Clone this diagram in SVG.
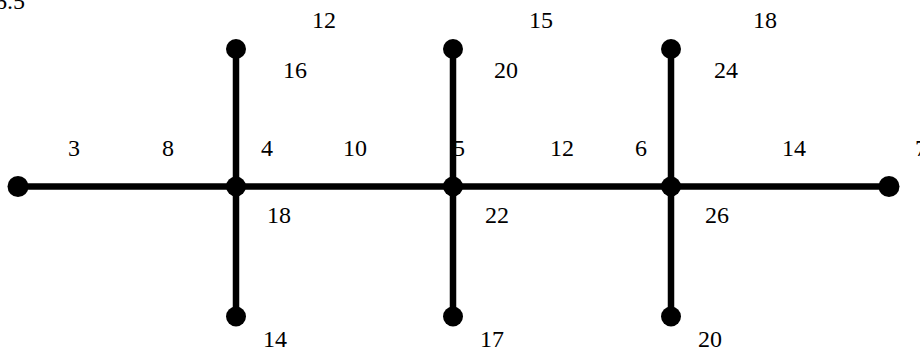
<svg xmlns="http://www.w3.org/2000/svg" width="920" height="353" viewBox="0 0 920 353">
<style>
text{font-family:"Liberation Serif","Times New Roman",serif;font-size:24px;fill:#000}
.e{stroke:#000;stroke-width:6.5;fill:none}
.n{fill:#000}
</style>
<rect width="920" height="353" fill="#fff"/>
<g id="labels">
<text x="-5" y="9">6.5</text>
<text x="68" y="156">3</text>
<text x="162" y="156">8</text>
<text x="261" y="156">4</text>
<text x="343" y="156">10</text>
<text x="453" y="156">5</text>
<text x="550" y="156">12</text>
<text x="635" y="156">6</text>
<text x="782" y="156">14</text>
<text x="915" y="156">7</text>
<text x="312" y="28">12</text>
<text x="529" y="28">15</text>
<text x="753" y="28">18</text>
<text x="283" y="78">16</text>
<text x="494" y="78">20</text>
<text x="714" y="78">24</text>
<text x="267" y="223">18</text>
<text x="485" y="223">22</text>
<text x="705" y="223">26</text>
<text x="263" y="347">14</text>
<text x="480" y="347">17</text>
<text x="698" y="347">20</text>
</g>
<g id="connectors">
<line class="e" x1="18" y1="186.5" x2="889" y2="186.5"/>
<line class="e" x1="236" y1="49" x2="236" y2="316.5"/>
<line class="e" x1="453" y1="49" x2="453" y2="316.5"/>
<line class="e" x1="671" y1="49" x2="671" y2="316.5"/>
</g>
<g id="n1"><circle class="n" cx="18" cy="186.5" r="10.5"/></g>
<g id="n2"><circle class="n" cx="236" cy="186.5" r="10"/></g>
<g id="n3"><circle class="n" cx="453" cy="186.5" r="10"/></g>
<g id="n4"><circle class="n" cx="671" cy="186.5" r="10"/></g>
<g id="n5"><circle class="n" cx="889" cy="186.5" r="10.5"/></g>
<g id="n6"><circle class="n" cx="236" cy="49" r="10"/></g>
<g id="n7"><circle class="n" cx="453" cy="49" r="10"/></g>
<g id="n8"><circle class="n" cx="671" cy="49" r="10"/></g>
<g id="n9"><circle class="n" cx="236" cy="316.5" r="10"/></g>
<g id="n10"><circle class="n" cx="453" cy="316.5" r="10"/></g>
<g id="n11"><circle class="n" cx="671" cy="316.5" r="10"/></g>
</svg>
